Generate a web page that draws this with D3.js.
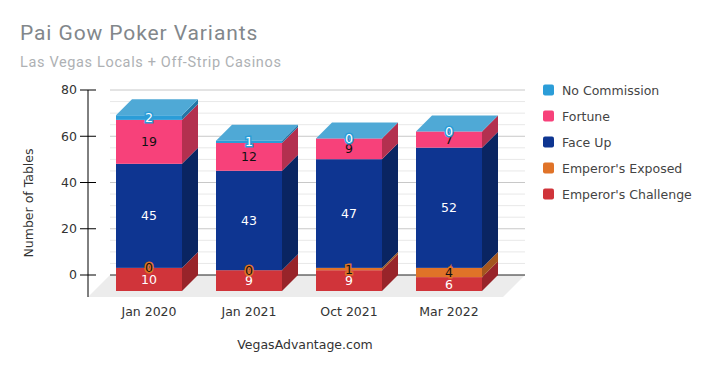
<!DOCTYPE html>
<html>
<head>
<meta charset="utf-8">
<script src="https://cdn.jsdelivr.net/npm/d3@7"></script>
<style>
  body { margin: 0; background: #fff; }
  text { font-family: 'DejaVu Sans', sans-serif; }
</style>
</head>
<body>
<div id="chart"></div>
<script>
// data
const categories = ['Jan 2020', 'Jan 2021', 'Oct 2021', 'Mar 2022']
const seriesNames = ["Emperor's Challenge", "Emperor's Exposed", 'Face Up', 'Fortune', 'No Commission']
const emperorsChallenge = [10, 9, 9, 6]
const emperorsExposed = [0, 0, 1, 4]
const faceUp = [45, 43, 47, 52]
const fortune = [19, 12, 9, 7]
const noCommission = [2, 1, 0, 0]
const yTicks = [0, 20, 40, 60, 80]

const seriesValues = [emperorsChallenge, emperorsExposed, faceUp, fortune, noCommission]
const colors = ['#d0343a', '#e07328', '#0e3591', '#f7417a', '#2b9dd8']
const sideColors = ['#98242a', '#a4561e', '#0a2562', '#b3304f', '#2376a6']
const labelColors = ['#fff', '#111', '#fff', '#111', '#fff']

const width = 711
const height = 371
const depth = 16

const svg = d3
  .select('#chart')
  .append('svg')
  .attr('width', width)
  .attr('height', height)

// Scales (back plane)
const yScale = d3.scaleLinear().domain([0, 80]).range([275, 90])
const xScale = d3
  .scaleBand()
  .domain(categories)
  .range([99, 499])
  .paddingInner(0.34)
  .paddingOuter(0.17)

// titles
svg.append('text')
  .attr('x', 20).attr('y', 40)
  .attr('font-size', 21)
  .attr('fill', '#82878b')
  .style('font-family', 'Roboto, sans-serif')
  .style('letter-spacing', '0.9px')
  .text('Pai Gow Poker Variants')

svg.append('text')
  .attr('x', 20).attr('y', 67)
  .attr('font-size', 14.5)
  .attr('fill', '#aeb1b4')
  .style('font-family', 'Roboto, sans-serif')
  .style('letter-spacing', '0.65px')
  .text('Las Vegas Locals + Off-Strip Casinos')

// floor
const floorBack = [110, 525]
svg.append('path')
  .attr('d', 'M' + floorBack[0] + ',' + yScale(0) +
    'L' + floorBack[1] + ',' + yScale(0) +
    'L' + (floorBack[1] - 22) + ',' + (yScale(0) + 22) +
    'L' + (floorBack[0] - 22) + ',' + (yScale(0) + 22) + 'Z')
  .attr('fill', '#ececec')

// gridlines
const minor = d3.range(5, 80, 5).filter(d => d % 20 !== 0)
svg.selectAll('.minor')
  .data(minor)
  .enter()
  .append('line')
  .attr('x1', floorBack[0]).attr('x2', floorBack[1])
  .attr('y1', d => yScale(d)).attr('y2', d => yScale(d))
  .attr('stroke', '#e8e8e8')

svg.selectAll('.major')
  .data(yTicks)
  .enter()
  .append('line')
  .attr('x1', floorBack[0]).attr('x2', floorBack[1])
  .attr('y1', d => yScale(d)).attr('y2', d => yScale(d))
  .attr('stroke', d => d === 0 ? '#222' : '#c8c8c8')

// y axis
const axisX = 88
svg.append('line')
  .attr('x1', axisX).attr('x2', axisX)
  .attr('y1', yScale(80)).attr('y2', yScale(0) + 22)
  .attr('stroke', '#000')

svg.selectAll('.ytick')
  .data(yTicks)
  .enter()
  .append('line')
  .attr('x1', axisX - 8).attr('x2', axisX + 8)
  .attr('y1', d => yScale(d)).attr('y2', d => yScale(d))
  .attr('stroke', '#000')

svg.selectAll('.ylabel')
  .data(yTicks)
  .enter()
  .append('text')
  .attr('x', axisX - 11)
  .attr('y', d => yScale(d))
  .attr('dy', '0.35em')
  .attr('text-anchor', 'end')
  .attr('font-size', 12.5)
  .attr('fill', '#333')
  .text(d => d)

svg.append('text')
  .attr('transform', 'translate(33,203) rotate(-90)')
  .attr('text-anchor', 'middle')
  .attr('font-size', 12.5)
  .attr('fill', '#333')
  .text('Number of Tables')

// stacked data
const stacks = categories.map(function(c, i) {
  let base = 0
  return seriesValues.map(function(vals, s) {
    const seg = { cat: c, s: s, y0: base, y1: base + vals[i], value: vals[i] }
    base += vals[i]
    return seg
  })
})

const bw = xScale.bandwidth()

stacks.forEach(function(segs) {
  const g = svg.append('g')
  const x0 = xScale(segs[0].cat)
  const x1 = x0 + bw

  // side faces
  g.selectAll('.side')
    .data(segs)
    .enter()
    .append('path')
    .attr('d', function(d) {
      const top = yScale(d.y1)
      const bot = yScale(d.y0)
      return 'M' + x1 + ',' + (bot + depth) + 'L' + x1 + ',' + (top + depth) +
        'L' + (x1 + depth) + ',' + top + 'L' + (x1 + depth) + ',' + bot + 'Z'
    })
    .attr('fill', d => sideColors[d.s])

  // front faces
  g.selectAll('.front')
    .data(segs)
    .enter()
    .append('rect')
    .attr('x', x0)
    .attr('y', d => yScale(d.y1) + depth)
    .attr('width', bw)
    .attr('height', d => yScale(d.y0) - yScale(d.y1))
    .attr('fill', d => colors[d.s])

  // top face
  const last = segs[segs.length - 1]
  const t = yScale(last.y1)
  g.append('path')
    .attr('d', 'M' + x0 + ',' + (t + depth) + 'L' + x1 + ',' + (t + depth) +
      'L' + (x1 + depth) + ',' + t + 'L' + (x0 + depth) + ',' + t + 'Z')
    .attr('fill', '#4fa9d6')

  // labels
  g.selectAll('.label')
    .data(segs)
    .enter()
    .append('text')
    .attr('x', x0 + bw / 2)
    .attr('y', d => (yScale(d.y0) + yScale(d.y1)) / 2 + depth)
    .attr('dy', '0.36em')
    .attr('text-anchor', 'middle')
    .attr('font-size', 12.5)
    .attr('fill', d => labelColors[d.s])
    .attr('stroke', d => colors[d.s])
    .attr('stroke-width', 3)
    .attr('paint-order', 'stroke')
    .text(d => d.value)
})

// x labels
svg.selectAll('.xlabel')
  .data(categories)
  .enter()
  .append('text')
  .attr('x', d => xScale(d) + bw / 2)
  .attr('y', 316)
  .attr('text-anchor', 'middle')
  .attr('font-size', 12.5)
  .attr('fill', '#333')
  .text(d => d)

svg.append('text')
  .attr('x', 305).attr('y', 349)
  .attr('text-anchor', 'middle')
  .attr('font-size', 12.5)
  .attr('fill', '#333')
  .text('VegasAdvantage.com')

// legend
const legendOrder = seriesNames.map((n, i) => i).reverse()
const legend = svg.selectAll('.legend')
  .data(legendOrder)
  .enter()
  .append('g')
  .attr('transform', (d, i) => 'translate(543,' + (90 + i * 26) + ')')

legend.append('rect')
  .attr('x', 0).attr('y', -5.5)
  .attr('width', 11).attr('height', 11)
  .attr('rx', 2)
  .attr('fill', d => colors[d])

legend.append('text')
  .attr('x', 19)
  .attr('dy', '0.36em')
  .attr('font-size', 12.5)
  .attr('fill', '#444')
  .text(d => seriesNames[d])
</script>
</body>
</html>
